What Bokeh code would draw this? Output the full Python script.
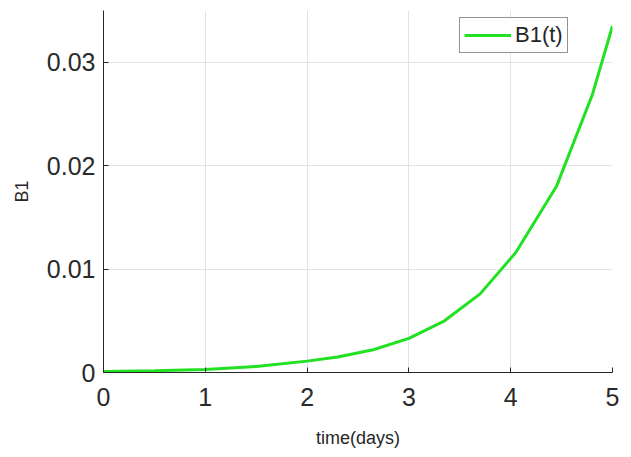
from bokeh.plotting import figure
from bokeh.models import Range1d, FixedTicker, NumeralTickFormatter, Legend, LegendItem
from bokeh.embed import file_html
from bokeh.resources import INLINE

# data
t_days = [0.0, 0.5, 1.0, 1.5, 2.0, 2.3, 2.65, 3.0, 3.35, 3.7, 4.05, 4.45, 4.8, 5.0]
b1_values = [0.0001, 0.00018, 0.0003, 0.00058, 0.0011, 0.0015, 0.0022, 0.0033,
             0.0050, 0.0076, 0.0116, 0.0180, 0.0268, 0.0335]
x_ticks = [0, 1, 2, 3, 4, 5]
y_ticks = [0, 0.01, 0.02, 0.03]

FONT = "Liberation Sans"
DARK = "#262626"

p = figure(width=631, height=457, output_backend="svg", toolbar_location=None,
           x_range=Range1d(0, 5), y_range=Range1d(0, 0.035),
           min_border_left=103, min_border_right=19, min_border_top=10, min_border_bottom=85)
p.outline_line_color = None
p.background_fill_color = "white"
p.border_fill_color = "white"

for ax in (p.xaxis[0], p.yaxis[0]):
    ax.axis_line_color = DARK
    ax.axis_line_width = 1
    ax.major_tick_line_color = DARK
    ax.major_tick_in = 5
    ax.major_tick_out = 0
    ax.minor_tick_line_color = None
    ax.major_label_text_font = FONT
    ax.major_label_text_font_size = "25px"
    ax.major_label_text_color = "#2a2a2a"
    ax.axis_label_text_font = FONT
    ax.axis_label_text_font_size = "18px"
    ax.axis_label_text_font_style = "normal"
    ax.axis_label_text_color = DARK

p.xaxis[0].ticker = FixedTicker(ticks=x_ticks)
p.yaxis[0].ticker = FixedTicker(ticks=y_ticks)
p.yaxis[0].formatter = NumeralTickFormatter(format="0.[00]")
p.xaxis[0].axis_label = "time(days)"
p.yaxis[0].axis_label = "B1"
p.xaxis[0].major_label_standoff = 15
p.yaxis[0].major_label_standoff = 8
p.xaxis[0].axis_label_standoff = 19
p.yaxis[0].axis_label_standoff = 12

for g in (p.xgrid[0], p.ygrid[0]):
    g.grid_line_color = "#e3e3e3"
    g.grid_line_width = 1

r = p.line(t_days, b1_values, line_color="#22e022", line_width=3)

legend = Legend(items=[LegendItem(label="B1(t)", renderers=[r])],
                location=(356, 319))
legend.border_line_color = DARK
legend.border_line_width = 1
legend.label_text_font = FONT
legend.label_text_font_size = "22px"
legend.label_text_color = DARK
legend.glyph_width = 47
legend.label_standoff = 4
legend.padding = 4
legend.margin = 0
legend.spacing = 0
legend.background_fill_alpha = 1
p.add_layout(legend, "center")

open("out.html", "w").write(file_html(p, INLINE))
